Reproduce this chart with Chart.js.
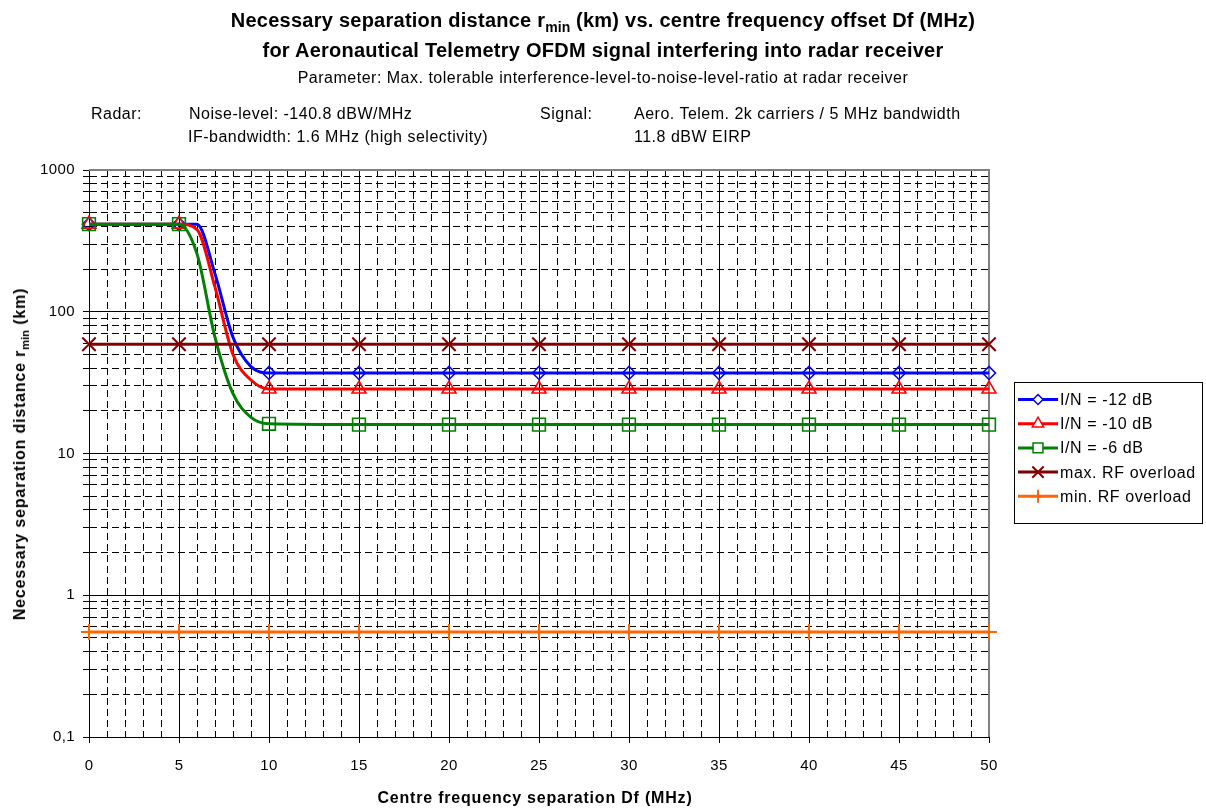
<!DOCTYPE html>
<html>
<head>
<meta charset="utf-8">
<script src="https://cdn.jsdelivr.net/npm/chart.js@4"></script>
<style>
  body { margin: 0; background: #fff; font-family: "Liberation Sans", Arial, sans-serif; color: #000; }
  #wrap { position: relative; width: 1206px; height: 809px; }
  #c { position: absolute; left: 0; top: 0; }
  .t { position: absolute; white-space: nowrap; }
  .ctr { left: 0; width: 1206px; text-align: center; }
  .b { font-weight: bold; }
  .h1 { font-size: 20px; line-height: 20px; letter-spacing: 0.25px; }
  .s { font-size: 16px; line-height: 16px; letter-spacing: 0.5px; }
  .ax { font-size: 16px; line-height: 16px; letter-spacing: 0.8px; }
  sub { font-size: 70%; vertical-align: -0.35em; line-height: 0; letter-spacing: 0; }
</style>
</head>
<body>
<div id="wrap">
  <canvas id="c" width="1206" height="809"></canvas>
  <div class="t ctr b h1" style="top:10px;">Necessary separation distance r<sub>min</sub> (km) vs. centre frequency offset Df (MHz)</div>
  <div class="t ctr b h1" style="top:40px;">for Aeronautical Telemetry OFDM signal interfering into radar receiver</div>
  <div class="t ctr s" style="top:70px;">Parameter: Max. tolerable interference-level-to-noise-level-ratio at radar receiver</div>
  <div class="t s" style="left:91px;top:106px;">Radar:</div>
  <div class="t s" style="left:189px;top:106px;">Noise-level: -140.8 dBW/MHz</div>
  <div class="t s" style="left:188px;top:129px;">IF-bandwidth: 1.6 MHz (high selectivity)</div>
  <div class="t s" style="left:540px;top:106px;">Signal:</div>
  <div class="t s" style="left:634px;top:106px;">Aero. Telem. 2k carriers / 5 MHz bandwidth</div>
  <div class="t s" style="left:634px;top:129px;">11.8 dBW EIRP</div>
  <div class="t b ax" style="left:20px;top:454px;transform:translate(-50%,-50%) rotate(-90deg);">Necessary separation distance r<sub>min</sub> (km)</div>
  <div class="t b ax" style="left:535px;top:798px;transform:translate(-50%,-50%);">Centre frequency separation Df (MHz)</div>
</div>
<script>
// frequency offsets (MHz) of the computed points
const freq = [0, 5, 6, 7, 8, 9, 10, 15, 20, 25, 30, 35, 40, 45, 50];
// separation distance r_min (km) per I/N criterion
const rIN12 = [415, 415, 415, 185, 66, 41, 37, 37, 37, 37, 37, 37, 37, 37, 37];
const rIN10 = [415, 415, 380, 149, 50, 33, 28.5, 28.5, 28.5, 28.5, 28.5, 28.5, 28.5, 28.5, 28.5];
const rIN6 = [415, 415, 256, 66, 26.4, 18, 16.2, 16, 16, 16, 16, 16, 16, 16, 16];
// RF overload distances
const overloadFreq = [0, 5, 10, 15, 20, 25, 30, 35, 40, 45, 50];
const maxOverload = [59, 59, 59, 59, 59, 59, 59, 59, 59, 59, 59];
const minOverload = [0.55, 0.55, 0.55, 0.55, 0.55, 0.55, 0.55, 0.55, 0.55, 0.55, 0.55];
// axis ticks
const xTicks = [];
for (let i = 0; i <= 50; i++) xTicks.push(i);
const xLabels = [0, 5, 10, 15, 20, 25, 30, 35, 40, 45, 50];
const yDecades = [0.1, 1, 10, 100, 1000];
const yDecadeLabels = ['0,1', '1', '10', '100', '1000'];

const FONT = '"Liberation Sans", Arial, sans-serif';

const toXY = (xs, ys) => xs.map((x, i) => ({ x: x, y: ys[i] }));
const onFive = ctx => {
    const p = ctx.raw;
    return p && p.x % 5 === 0;
};

const series = [
    { label: 'I/N = -12 dB', data: toXY(freq, rIN12), color: '#0000ff', style: 'rectRot', r: 6.5, order: 5 },
    { label: 'I/N = -10 dB', data: toXY(freq, rIN10), color: '#ff0000', style: 'triangle', r: 8, order: 4 },
    { label: 'I/N = -6 dB', data: toXY(freq, rIN6), color: '#008000', style: 'rect', r: 9, order: 3 },
    { label: 'max. RF overload', data: toXY(overloadFreq, maxOverload), color: '#800000', style: 'crossRot', r: 9.5, order: 2 },
    { label: 'min. RF overload', data: toXY(overloadFreq, minOverload), color: '#ff6600', style: 'cross', r: 8, order: 1 }
];

const datasets = series.map(s => ({
    label: s.label,
    data: s.data,
    order: s.order,
    borderColor: s.color,
    borderWidth: 3,
    cubicInterpolationMode: 'monotone',
    pointStyle: s.style,
    pointRadius: ctx => onFive(ctx) ? s.r : 0,
    pointHoverRadius: 0,
    pointBorderColor: s.color,
    pointBackgroundColor: 'rgba(0,0,0,0)',
    pointBorderWidth: s.style.startsWith('cross') ? 2 : 1.6,
    clip: false
}));

// slightly wider glyph spacing, like the original rendering
const spacing = {
    id: 'spacing',
    beforeDraw(chart) { chart.ctx.letterSpacing = '0.4px'; }
};

// gray frame on top/right of the plot area
const frame = {
    id: 'frame',
    beforeDatasetsDraw(chart) {
        const { ctx, chartArea: a } = chart;
        ctx.save();
        ctx.strokeStyle = '#808080';
        ctx.lineWidth = 2;
        ctx.beginPath();
        ctx.moveTo(a.left, a.top);
        ctx.lineTo(a.right, a.top);
        ctx.lineTo(a.right, a.bottom);
        ctx.stroke();
        ctx.restore();
    }
};

// legend with line + marker samples
const legendBox = {
    id: 'legendBox',
    afterDraw(chart) {
        const ctx = chart.ctx;
        ctx.save();
        ctx.fillStyle = '#fff';
        ctx.fillRect(1014.5, 382.5, 188, 141);
        ctx.strokeStyle = '#000';
        ctx.lineWidth = 1;
        ctx.strokeRect(1014.5, 382.5, 188, 141);
        ctx.font = '16px ' + FONT;
        ctx.letterSpacing = '0.6px';
        ctx.textBaseline = 'middle';
        series.forEach((s, i) => {
            const y = 399.5 + i * 24.2;
            ctx.strokeStyle = s.color;
            ctx.lineWidth = 3;
            ctx.beginPath();
            ctx.moveTo(1018, y);
            ctx.lineTo(1058, y);
            ctx.stroke();
            const bw = s.style.startsWith('cross') ? 2 : 1.5;
            ctx.lineWidth = bw;
            ctx.fillStyle = '#fff';
            const r = s.style === 'rect' ? 7 : s.r - 1.5;
            Chart.helpers.drawPoint(ctx, { pointStyle: s.style, radius: r, rotation: 0, borderWidth: bw }, 1038, y);
            ctx.fillStyle = '#000';
            ctx.fillText(s.label, 1060, y + 1);
        });
        ctx.restore();
    }
};

const dash = ctx => (ctx.tick && !ctx.tick.major) ? [7, 4] : [];

new Chart(document.getElementById('c'), {
    type: 'line',
    data: { datasets: datasets },
    options: {
        responsive: false,
        animation: false,
        layout: { padding: { left: 0, top: 170, right: 217, bottom: 0 } },
        plugins: { legend: { display: false }, title: { display: false }, tooltip: { enabled: false } },
        scales: {
            x: {
                type: 'linear',
                min: 0,
                max: 50,
                afterBuildTicks: axis => {
                    axis.ticks = xTicks.map(v => ({ value: v, major: xLabels.includes(v) }));
                },
                afterFit: axis => { axis.height = 72; },
                ticks: {
                    autoSkip: false,
                    maxRotation: 0,
                    padding: 14,
                    color: '#000',
                    font: { family: FONT, size: 15 },
                    callback: v => xLabels.includes(v) ? String(v) : ''
                },
                grid: {
                    color: '#000',
                    lineWidth: 1,
                    tickLength: 6,
                    tickColor: ctx => (ctx.tick && ctx.tick.major) ? '#000' : 'rgba(0,0,0,0)'
                },
                border: { color: '#000', width: 1, dash: dash }
            },
            y: {
                type: 'logarithmic',
                min: 0.1,
                max: 1000,
                afterBuildTicks: axis => {
                    const t = [];
                    yDecades.forEach((d, i) => {
                        t.push({ value: d, major: true });
                        if (i < yDecades.length - 1) {
                            for (let m = 2; m <= 9; m++) t.push({ value: +(d * m).toPrecision(3), major: false });
                        }
                    });
                    axis.ticks = t;
                },
                afterFit: axis => { axis.width = 89; },
                ticks: {
                    autoSkip: false,
                    padding: 8,
                    color: '#000',
                    font: { family: FONT, size: 15 },
                    callback: v => {
                        const k = yDecades.indexOf(v);
                        return k >= 0 ? yDecadeLabels[k] : '';
                    }
                },
                grid: { color: '#000', lineWidth: 1, tickLength: 6, tickColor: '#000' },
                border: { color: '#000', width: 1, dash: dash }
            }
        }
    },
    plugins: [spacing, frame, legendBox]
});
</script>
</body>
</html>
